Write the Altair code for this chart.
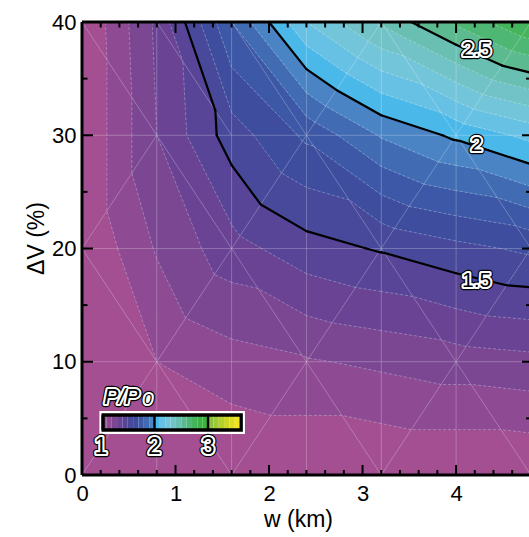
import numpy as np
import pandas as pd
import altair as alt

# ---------------- data ----------------
W_NODES = [0.0, 0.8, 1.6, 2.4, 3.2, 4.0, 4.8]          # w (km)
DV_NODES = [0, 10, 20, 30, 40]                          # ΔV (%)
P_DV0 = [1.00, 1.00, 1.00, 1.00, 1.00, 1.00, 1.00]      # P/P0 at ΔV = 0
P_DV10 = [1.00, 1.10, 1.16, 1.19, 1.22, 1.25, 1.27]     # ΔV = 10
P_DV20 = [1.00, 1.21, 1.36, 1.46, 1.51, 1.57, 1.62]     # ΔV = 20
P_DV30 = [1.00, 1.30, 1.55, 1.72, 1.91, 2.02, 2.13]     # ΔV = 30
P_DV40 = [1.00, 1.32, 1.80, 2.20, 2.42, 2.62, 2.80]     # ΔV = 40

# mesh diagonal of each cell ("/" = lower-left to upper-right), rows from ΔV = 0 upward
DIAG_ROWS = [
    ["/", "\\", "/", "\\", "/", "\\"],
    ["\\", "/", "\\", "/", "\\", "/"],
    ["/", "\\", "/", "\\", "/", "\\"],
    ["\\", "\\", "\\", "/", "\\", "/"],
]

LEVELS = [1.0, 1.1, 1.2, 1.3, 1.4, 1.5, 1.6, 1.7, 1.8, 1.9,
          2.0, 2.1, 2.2, 2.3, 2.4, 2.5, 2.6, 2.7, 2.8, 2.9,
          3.0, 3.1, 3.2, 3.3, 3.4, 3.5, 3.6, 3.7]
BAND_COLORS = ["#a34f92", "#8e4b93", "#7b4793", "#6a4394", "#594597",
               "#48499a", "#3e4d9e", "#3d58a6", "#416cb3", "#4a84c4",
               "#4bb8ea", "#67c1e4", "#73c5da", "#71c3c7", "#69bfb1",
               "#5cba90", "#4fb774", "#44b55c", "#3cb444", "#3ab53a",
               "#88c440", "#9eca33", "#b4d02a", "#c9d624", "#dfdc20",
               "#efe31c", "#f0a81c"]
LINE_LEVELS = [1.5, 2.0, 2.5]
LABEL_TEXT = ["2.5", "2", "1.5"]
LABEL_W = [4.22, 4.22, 4.22]
LABEL_DV = [37.5, 29.1, 17.1]

CB_TICKS = [1, 2, 3]
CB_END = 3.62
CB_BOX = [0.97, 3.69]

X_MAJOR = [0, 1, 2, 3, 4]
X_MINOR = [0.2, 0.4, 0.6, 0.8, 1.2, 1.4, 1.6, 1.8, 2.2, 2.4, 2.6, 2.8,
           3.2, 3.4, 3.6, 3.8, 4.2, 4.4, 4.6]
Y_MAJOR = [0, 10, 20, 30, 40]
Y_MINOR = [5, 15, 25, 35]

W_PX, H_PX = 447, 453
FONT = "Liberation Sans"

# ---------------- triangulated field -> filled bands ----------------
grid = np.array([P_DV0, P_DV10, P_DV20, P_DV30, P_DV40], dtype=float)
nw, nd = len(W_NODES), len(DV_NODES)


def node(i, j):
    return (W_NODES[i], DV_NODES[j], grid[j][i])


tris = []
for j in range(nd - 1):
    for i in range(nw - 1):
        a, b, c, d = node(i, j), node(i + 1, j), node(i + 1, j + 1), node(i, j + 1)
        if DIAG_ROWS[j][i] == "/":
            tris += [(a, b, c), (a, c, d)]
        else:
            tris += [(a, b, d), (b, c, d)]


def clip(poly, lev, keep_above):
    out = []
    n = len(poly)
    for k in range(n):
        P, Q = poly[k], poly[(k + 1) % n]
        inP = P[2] >= lev if keep_above else P[2] <= lev
        inQ = Q[2] >= lev if keep_above else Q[2] <= lev
        if inP:
            out.append(P)
        if inP != inQ:
            t = (lev - P[2]) / (Q[2] - P[2])
            out.append((P[0] + t * (Q[0] - P[0]), P[1] + t * (Q[1] - P[1]), lev))
    return out


def area(poly):
    s = 0.0
    for k in range(len(poly)):
        x1, y1 = poly[k][0], poly[k][1] / 10.0
        x2, y2 = poly[(k + 1) % len(poly)][0], poly[(k + 1) % len(poly)][1] / 10.0
        s += x1 * y2 - x2 * y1
    return abs(s) / 2


BAND_KEYS = ["b%02d" % k for k in range(len(BAND_COLORS))]
rows = []
pid = 0
nb = len(BAND_COLORS)
for k in range(nb):
    for tri in tris:
        poly = list(tri)
        if k > 0:
            poly = clip(poly, LEVELS[k], True)
        if k < nb - 1 and len(poly) >= 3:
            poly = clip(poly, LEVELS[k + 1], False)
        if len(poly) < 3 or area(poly) < 1e-7:
            continue
        for o, p in enumerate(poly + [poly[0]]):
            rows.append({"pid": pid, "ord": o, "w": p[0], "dv": p[1], "band": BAND_KEYS[k]})
        pid += 1
poly_df = pd.DataFrame(rows)


def level_segments(lev):
    segs = []
    for tri in tris:
        pts = []
        for k in range(3):
            P, Q = tri[k], tri[(k + 1) % 3]
            fp, fq = P[2] - lev, Q[2] - lev
            if (fp < 0) != (fq < 0):
                t = fp / (fp - fq)
                pts.append((P[0] + t * (Q[0] - P[0]), P[1] + t * (Q[1] - P[1])))
        if len(pts) == 2:
            segs.append({"w1": pts[0][0], "d1": pts[0][1], "w2": pts[1][0], "d2": pts[1][1]})
    return segs


line_df = pd.DataFrame([s for L in LINE_LEVELS for s in level_segments(L)])
band_line_df = pd.DataFrame([s for L in LEVELS[1:] if L not in LINE_LEVELS
                             for s in level_segments(L)])

edges = set()
for tri in tris:
    for k in range(3):
        P, Q = tri[k], tri[(k + 1) % 3]
        e = tuple(sorted([(P[0], P[1]), (Q[0], Q[1])]))
        edges.add(e)
mesh_df = pd.DataFrame([{"w1": e[0][0], "d1": e[0][1], "w2": e[1][0], "d2": e[1][1]} for e in edges])

# ---------------- chart ----------------
xs = alt.Scale(domain=[0, 4.78], nice=False, zero=False)
ys = alt.Scale(domain=[0, 40], nice=False, zero=False)
band_scale = alt.Scale(domain=BAND_KEYS, range=BAND_COLORS)

x_axis = alt.Axis(values=X_MAJOR, title="w (km)", format="d", ticks=False, domain=False,
                  grid=False, labelFlush=False, labelOverlap=False, labelPadding=8,
                  labelFont=FONT, labelFontSize=22, labelColor="black",
                  titleFont=FONT, titleFontSize=23, titleFontWeight="normal", titleColor="black",
                  titleX=216, titleY=51, titleBaseline="alphabetic", titleAlign="center")
y_axis = alt.Axis(values=Y_MAJOR, title="ΔV (%)", format="d", ticks=False, domain=False,
                  grid=False, labelFlush=False, labelOverlap=False, labelPadding=6,
                  labelFont=FONT, labelFontSize=22, labelColor="black",
                  titleFont=FONT, titleFontSize=23, titleFontWeight="normal", titleColor="black",
                  titleX=-39, titleY=216, titleAngle=-90, titleBaseline="alphabetic",
                  titleAlign="center")


def Y(field):
    # every layer sharing the y scale carries the same axis so it is kept when merged
    return alt.Y(field, scale=ys, axis=y_axis)


fill_layer = alt.Chart(poly_df).mark_line(strokeWidth=0.7, clip=True, strokeJoin="round").encode(
    x=alt.X("w:Q", scale=xs, axis=x_axis),
    y=Y("dv:Q"),
    detail="pid:N",
    order="ord:Q",
    fill=alt.Fill("band:N", scale=band_scale, legend=None),
    stroke=alt.Stroke("band:N", scale=band_scale, legend=None),
)


def seg_layer(df, **mk):
    return alt.Chart(df).mark_rule(clip=True, **mk).encode(
        x=alt.X("w1:Q", scale=xs, axis=None), y=Y("d1:Q"),
        x2="w2:Q", y2="d2:Q")


band_lines = seg_layer(band_line_df, color="white", opacity=0.35, strokeWidth=0.8, strokeDash=[3, 2])
mesh = seg_layer(mesh_df, color="white", opacity=0.25, strokeWidth=0.9)
contours = seg_layer(line_df, color="black", strokeWidth=2.2, strokeCap="round")

lab_df = pd.DataFrame({"t": LABEL_TEXT, "w": LABEL_W, "dv": LABEL_DV})


def halo_text(df, xenc, yenc, size, italic=False, align="center", baseline="middle"):
    out = []
    for fill, sw in [("black", 6.5), ("white", 4.2), ("black", 0)]:
        kw = dict(font=FONT, fontSize=size, align=align, baseline=baseline, fill=fill)
        if italic:
            kw["fontStyle"] = "italic"
        if sw > 0:
            kw.update(stroke=fill, strokeWidth=sw, strokeJoin="round")
        out.append(alt.Chart(df).mark_text(**kw).encode(x=xenc, y=yenc, text="t:N"))
    return out


labels = halo_text(lab_df, alt.X("w:Q", scale=xs, axis=None), Y("dv:Q"), 21)

# frame and inward ticks
frame_df = pd.DataFrame({"k": [0]})
top_line = alt.Chart(frame_df).mark_rule(color="black", strokeWidth=3).encode(
    x=alt.value(0), x2=alt.value(W_PX), y=alt.value(0))
bottom_line = alt.Chart(frame_df).mark_rule(color="black", strokeWidth=3).encode(
    x=alt.value(0), x2=alt.value(W_PX), y=alt.value(H_PX))
left_line = alt.Chart(frame_df).mark_rule(color="black", strokeWidth=3).encode(
    x=alt.value(0), y=alt.value(0), y2=alt.value(H_PX))


def xticks(vals, y0, y1):
    return alt.Chart(pd.DataFrame({"t": vals})).mark_rule(color="black", strokeWidth=2).encode(
        x=alt.X("t:Q", scale=xs, axis=None), y=alt.value(y0), y2=alt.value(y1))


def yticks(vals, x0, x1):
    return alt.Chart(pd.DataFrame({"t": vals})).mark_rule(color="black", strokeWidth=2).encode(
        y=Y("t:Q"), x=alt.value(x0), x2=alt.value(x1))


ticks = [
    xticks(X_MAJOR, H_PX, H_PX - 10), xticks(X_MINOR, H_PX, H_PX - 5),
    xticks(X_MAJOR, 0, 11), xticks(X_MINOR, 0, 5.5),
    yticks(Y_MAJOR, 0, 11), yticks(Y_MINOR, 0, 5.5),
    yticks(Y_MAJOR, W_PX, W_PX - 7), yticks(Y_MINOR, W_PX, W_PX - 3),
]

# colour-bar legend
cbs = alt.Scale(domain=[1, CB_END], range=[19, 159.2], nice=False, zero=False)
cb_rows = []
for k in range(nb):
    lo, hi = LEVELS[k], min(LEVELS[k + 1], CB_END)
    if lo < CB_END:
        cb_rows.append({"lo": lo, "hi": hi, "band": BAND_KEYS[k]})
cb_df = pd.DataFrame(cb_rows)
cb_box = alt.Chart(pd.DataFrame({"lo": [CB_BOX[0]], "hi": [CB_BOX[1]]})).mark_rect(
    fill="white").encode(x=alt.X("lo:Q", scale=cbs, axis=None), x2="hi:Q",
                         y=alt.value(389), y2=alt.value(412))
cb_cells = alt.Chart(cb_df).mark_rect().encode(
    x=alt.X("lo:Q", scale=cbs, axis=None), x2="hi:Q",
    y=alt.value(393), y2=alt.value(408),
    color=alt.Color("band:N", scale=band_scale, legend=None))
cb_border = alt.Chart(pd.DataFrame({"lo": [1.04], "hi": [CB_END]})).mark_rect(
    fill=None, stroke="black", strokeWidth=3.3).encode(
    x=alt.X("lo:Q", scale=cbs, axis=None), x2="hi:Q", y=alt.value(393), y2=alt.value(408))
cb_div = alt.Chart(pd.DataFrame({"t": [2, 3]})).mark_rule(color="black", strokeWidth=2.4).encode(
    x=alt.X("t:Q", scale=cbs, axis=None), y=alt.value(393), y2=alt.value(408))
cb_labels = halo_text(pd.DataFrame({"t": [str(v) for v in CB_TICKS], "v": CB_TICKS}),
                      alt.X("v:Q", scale=cbs, axis=None), alt.value(425), 23)
cb_title = halo_text(pd.DataFrame({"t": ["P/P"]}), alt.value(22), alt.value(382), 22,
                     italic=True, align="left", baseline="alphabetic")
cb_title0 = halo_text(pd.DataFrame({"t": ["0"]}), alt.value(62), alt.value(382), 14,
                      italic=True, align="left", baseline="alphabetic")

layers = ([fill_layer, band_lines, mesh, contours] + labels +
          [top_line, bottom_line, left_line] + ticks +
          [cb_box, cb_cells, cb_border, cb_div] + cb_labels + cb_title + cb_title0)

chart = alt.layer(*layers).resolve_scale(x="independent").properties(
    width=W_PX, height=H_PX,
    autosize=alt.AutoSizeParams(type="none"),
    padding={"left": 82, "top": 22, "right": 0, "bottom": 62},
    background="white",
).configure_view(stroke=None)

chart.save("out.html", embed_options={"renderer": "svg", "actions": False})
